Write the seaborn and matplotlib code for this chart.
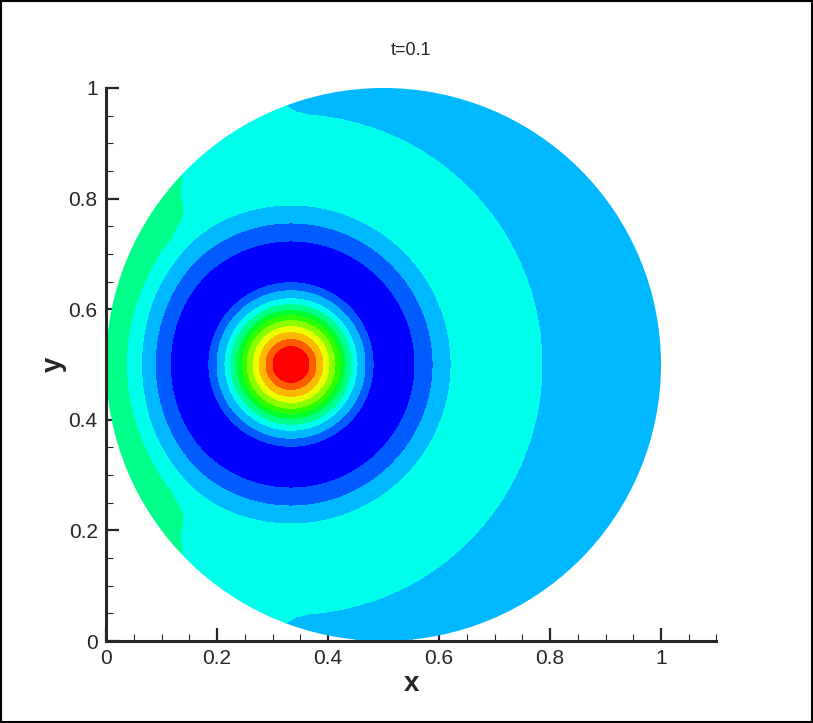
import numpy as np
import matplotlib
matplotlib.use("Agg")
import matplotlib.pyplot as plt
import seaborn as sns
from matplotlib.patches import Circle, Rectangle
from matplotlib.ticker import MultipleLocator

sns.set_style("ticks")
plt.rcParams['font.family'] = ['Liberation Sans', 'DejaVu Sans']

# pulse centre and disk
bump_center = (1 / 3, 0.5)
disk_center = (0.5, 0.5)
disk_radius = 0.5

# radial profile (radius from pulse centre, band value)
prof_r = [0.0, 0.0324, 0.045, 0.0577, 0.0685, 0.0793, 0.0883, 0.0973, 0.1081,
          0.1189, 0.1333, 0.1477, 0.1856, 0.2234, 0.2559, 0.2883, 0.3153,
          0.3333, 0.3604, 0.3964, 0.452, 0.5405, 0.6847]
prof_v = [12.0, 10.5, 9.5, 8.5, 7.5, 6.5, 5.5, 4.5, 3.5,
          2.5, 1.5, 0.5, -0.5, 0.5, 1.5, 2.5, 3.15,
          3.2, 3.1, 2.89, 2.5, 2.1, 1.9]

# wall reflection (path length via wall, added value)
refl_s = [0.0, 0.3315, 0.3676, 0.3964, 0.4108, 0.4288, 0.45, 0.4685, 0.49, 0.51]
refl_a = [0.85, 0.85, 0.82, 0.6, 0.42, 0.3, 0.16, 0.07, 0.02, 0.0]

# contour levels and colour bands
levels = [-5, 0.5, 1.5, 2.5, 3.5, 4.5, 5.5, 6.5, 7.5, 8.5, 9.5, 10.5, 20]
band_colors = sns.blend_palette(['#0000ff', '#00ffff', '#00ff00', '#ffff00', '#ff0000'],
                                n_colors=12)

x_ticks = [0, 0.2, 0.4, 0.6, 0.8, 1.0]
x_tick_labels = ['0', '0.2', '0.4', '0.6', '0.8', '1']
y_ticks = [0, 0.2, 0.4, 0.6, 0.8, 1.0]
y_tick_labels = ['0', '0.2', '0.4', '0.6', '0.8', '1']

# build the field on a grid
gx = np.linspace(0, 1, 801)
gy = np.linspace(0, 1, 801)
X, Y = np.meshgrid(gx, gy)
r = np.hypot(X - bump_center[0], Y - bump_center[1])
rho = np.hypot(X - disk_center[0], Y - disk_center[1]) + 1e-9
d = disk_radius - rho
wx = disk_center[0] + disk_radius * (X - disk_center[0]) / rho
wy = disk_center[1] + disk_radius * (Y - disk_center[1]) / rho
s = np.hypot(wx - bump_center[0], wy - bump_center[1]) + d
field = np.interp(r, prof_r, prof_v) + np.interp(s, refl_s, refl_a, right=0.0)

fig = plt.figure(figsize=(8.13, 7.23), dpi=100)
ax = fig.add_axes([0.1304, 0.1134, 0.7509, 0.7649])

cs = ax.contourf(X, Y, field, levels=levels, colors=band_colors, antialiased=False)
clip = Circle(disk_center, disk_radius, transform=ax.transData, facecolor='none', edgecolor='none')
ax.add_patch(clip)
cs.set_clip_path(clip)

ax.set_xlim(0, 1.1)
ax.set_ylim(0, 1)
ax.set_xticks(x_ticks)
ax.set_xticklabels(x_tick_labels)
ax.set_yticks(y_ticks)
ax.set_yticklabels(y_tick_labels)
ax.xaxis.set_minor_locator(MultipleLocator(0.05))
ax.yaxis.set_minor_locator(MultipleLocator(0.05))
ax.tick_params(which='major', direction='in', length=9.5, width=1.6, labelsize=15, pad=6)
ax.tick_params(which='minor', direction='in', length=5, width=0.8)

sns.despine(ax=ax)
for side in ['left', 'bottom']:
    ax.spines[side].set_linewidth(2.2)

ax.set_xlabel('x', fontsize=20, fontweight='bold', labelpad=2)
ax.set_ylabel('y', fontsize=20, fontweight='bold', labelpad=1)
ax.set_title('t=0.1', fontsize=13, pad=24)

fig.patches.append(Rectangle((0.001, 0.001), 0.998, 0.998, transform=fig.transFigure,
                             fill=False, edgecolor='black', linewidth=1.5))

fig.savefig('out.png', dpi=100)
